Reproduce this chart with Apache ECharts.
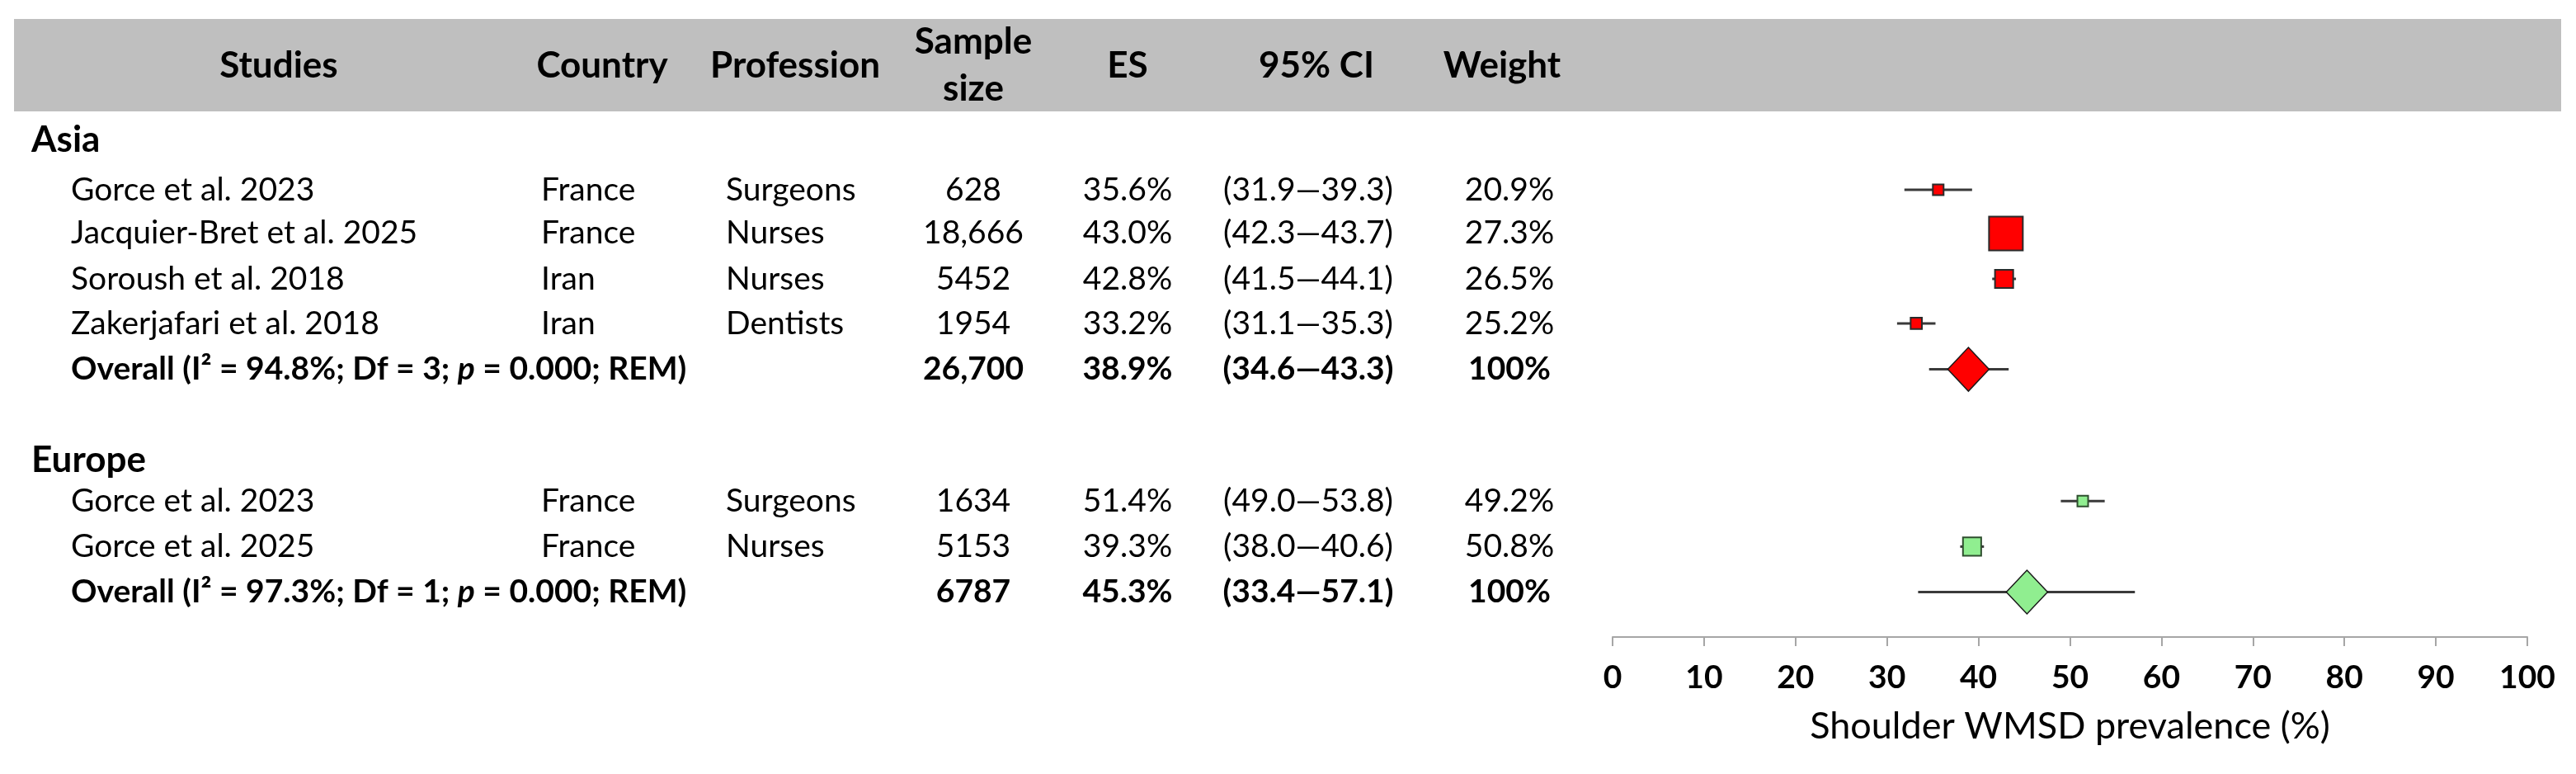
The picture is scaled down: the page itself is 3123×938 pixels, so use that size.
<!DOCTYPE html>
<html><head><meta charset="utf-8">
<script src="https://cdn.jsdelivr.net/npm/echarts@6/dist/echarts.min.js"></script>
<style>html,body{margin:0;padding:0;background:#fff}#c{width:3123px;height:938px}</style>
</head><body><div id="c"></div>
<script>
// ================= DATA =================
const headerLabels = ['Studies', 'Country', 'Profession', 'Sample\nsize', 'ES', '95% CI', 'Weight'];
const groupNames = ['Asia', 'Europe'];

const asiaStudies    = ['Gorce et al. 2023', 'Jacquier-Bret et al. 2025', 'Soroush et al. 2018', 'Zakerjafari et al. 2018'];
const asiaCountry    = ['France', 'France', 'Iran', 'Iran'];
const asiaProfession = ['Surgeons', 'Nurses', 'Nurses', 'Dentists'];
const asiaSample     = ['628', '18,666', '5452', '1954'];
const asiaES         = [35.6, 43.0, 42.8, 33.2];
const asiaLow        = [31.9, 42.3, 41.5, 31.1];
const asiaHigh       = [39.3, 43.7, 44.1, 35.3];
const asiaWeight     = ['20.9%', '27.3%', '26.5%', '25.2%'];
const asiaOverallLabel = 'Overall (I² = 94.8%; Df = 3; {it|p} = 0.000; REM)';
const asiaOverall    = { n: '26,700', es: 38.9, low: 34.6, high: 43.3, weight: '100%' };

const europeStudies    = ['Gorce et al. 2023', 'Gorce et al. 2025'];
const europeCountry    = ['France', 'France'];
const europeProfession = ['Surgeons', 'Nurses'];
const europeSample     = ['1634', '5153'];
const europeES         = [51.4, 39.3];
const europeLow        = [49.0, 38.0];
const europeHigh       = [53.8, 40.6];
const europeWeight     = ['49.2%', '50.8%'];
const europeOverallLabel = 'Overall (I² = 97.3%; Df = 1; {it|p} = 0.000; REM)';
const europeOverall    = { n: '6787', es: 45.3, low: 33.4, high: 57.1, weight: '100%' };

const axisTickLabels = ['0', '10', '20', '30', '40', '50', '60', '70', '80', '90', '100'];
const axisTitle = 'Shoulder WMSD prevalence (%)';

// ================= LAYOUT / STYLE =================
const FONT = 'Lato';
const FS = 39, FS_HEAD = 44, FS_GROUP = 44, FS_TITLE = 45;
const Y_MIN = -4.2, Y_MAX = 9.94;
const GRID_TOP = 1, GRID_H = 771;
const PLOT_LEFT = 1955, PLOT_W = 1109;
const TABLE_W = 1955;
const HEADER_Y = -2.76;
const asiaRowsY = { header: -1.1, rows: [0, 0.97, 1.98, 2.97], overall: 3.99 };
const europeRowsY = { header: 6.02, rows: [6.92, 7.93], overall: 8.94 };
// columns: [x, align] for header and values
const colHeader = [[338, 'center'], [730, 'center'], [964, 'center'], [1180, 'center'], [1367, 'center'], [1596, 'center'], [1821, 'center']];
const colValue  = [[86, 'left'], [656, 'left'], [880, 'left'], [1180, 'center'], [1367, 'center'], [1586, 'center'], [1830, 'center']];
const GROUP_X = 38;
const groupStyle = [
  { fill: '#ff0000', stroke: '#2a2a2a' },
  { fill: '#90ee90', stroke: '#2f4f2f' }
];

// ================= BUILD TABLE ITEMS =================
const tableItems = [];
function cell(x, y, text, align, weight, size) {
  tableItems.push({ x, y, text, align, weight: weight || 'normal', size: size || FS });
}
headerLabels.forEach((h, i) => cell(colHeader[i][0], HEADER_Y, h, colHeader[i][1], 'bold', FS_HEAD));

const fmt = v => v.toFixed(1);
function addGroup(gi, rowsY, studies, country, prof, sample, es, lo, hi, w, ovLabel, ov) {
  cell(GROUP_X, rowsY.header, groupNames[gi], 'left', 'bold', FS_GROUP);
  studies.forEach((s, i) => {
    const y = rowsY.rows[i];
    const vals = [s, country[i], prof[i], sample[i], fmt(es[i]) + '%', '(' + fmt(lo[i]) + '—' + fmt(hi[i]) + ')', w[i]];
    vals.forEach((v, c) => cell(colValue[c][0], y, v, colValue[c][1]));
  });
  const y = rowsY.overall;
  const vals = [ovLabel, null, null, ov.n, fmt(ov.es) + '%', '(' + fmt(ov.low) + '—' + fmt(ov.high) + ')', ov.weight];
  vals.forEach((v, c) => { if (v !== null) cell(colValue[c][0], y, v, colValue[c][1], 'bold'); });
}
addGroup(0, asiaRowsY, asiaStudies, asiaCountry, asiaProfession, asiaSample, asiaES, asiaLow, asiaHigh, asiaWeight, asiaOverallLabel, asiaOverall);
addGroup(1, europeRowsY, europeStudies, europeCountry, europeProfession, europeSample, europeES, europeLow, europeHigh, europeWeight, europeOverallLabel, europeOverall);

// ================= BUILD FOREST ITEMS =================
const forestItems = []; // [es, y, low, high, group, isOverall]
asiaES.forEach((v, i) => forestItems.push([v, asiaRowsY.rows[i], asiaLow[i], asiaHigh[i], 0, 0]));
forestItems.push([asiaOverall.es, asiaRowsY.overall, asiaOverall.low, asiaOverall.high, 0, 1]);
europeES.forEach((v, i) => forestItems.push([v, europeRowsY.rows[i], europeLow[i], europeHigh[i], 1, 0]));
forestItems.push([europeOverall.es, europeRowsY.overall, europeOverall.low, europeOverall.high, 1, 1]);

// ================= CHART =================
const chart = echarts.init(document.getElementById('c'), null, { renderer: 'canvas' });
const yAxisCommon = { type: 'value', min: Y_MIN, max: Y_MAX, inverse: true, show: false };

chart.setOption({
  backgroundColor: '#ffffff',
  animation: false,
  graphic: [{
    type: 'rect', z: 0, silent: true,
    shape: { x: 17, y: 23, width: 3088, height: 112 },
    style: { fill: '#bfbfbf' }
  }],
  grid: [
    { left: 0, top: GRID_TOP, width: TABLE_W, height: GRID_H },
    { left: PLOT_LEFT, top: GRID_TOP, width: PLOT_W, height: GRID_H }
  ],
  xAxis: [
    { gridIndex: 0, type: 'value', min: 0, max: TABLE_W, show: false },
    {
      gridIndex: 1, type: 'value', min: 0, max: 100, interval: 10,
      splitLine: { show: false },
      axisLine: { show: true, onZero: false, lineStyle: { color: '#a6a6a6', width: 2 } },
      axisTick: { show: true, length: 11, lineStyle: { color: '#a6a6a6', width: 2 } },
      axisLabel: {
        margin: 30, color: '#000', fontFamily: FONT, fontWeight: 'bold', fontSize: FS,
        formatter: (v) => axisTickLabels[Math.round(v / 10)]
      },
      name: axisTitle, nameLocation: 'middle', nameGap: 86,
      nameTextStyle: { color: '#000', fontFamily: FONT, fontSize: FS_TITLE }
    }
  ],
  yAxis: [
    Object.assign({ gridIndex: 0 }, yAxisCommon),
    Object.assign({ gridIndex: 1 }, yAxisCommon)
  ],
  series: [
    {
      type: 'custom', xAxisIndex: 0, yAxisIndex: 0, clip: false, silent: true, z: 5,
      data: tableItems.map(d => [d.x, d.y]),
      renderItem: function (params, api) {
        const d = tableItems[params.dataIndex];
        const p = api.coord([d.x, d.y]);
        return {
          type: 'text', x: p[0], y: p[1],
          style: {
            text: d.text, fill: '#000', fontFamily: FONT, fontSize: d.size, fontWeight: d.weight,
            align: d.align, verticalAlign: 'middle', lineHeight: 57,
            rich: { it: { fontStyle: 'italic', fontWeight: d.weight, fontFamily: FONT, fontSize: d.size, fill: '#000' } }
          }
        };
      }
    },
    {
      type: 'custom', xAxisIndex: 1, yAxisIndex: 1, clip: false, silent: true, z: 5,
      data: forestItems,
      renderItem: function (params, api) {
        const es = api.value(0), y = api.value(1), lo = api.value(2), hi = api.value(3);
        const g = api.value(4), ov = api.value(5);
        const c = api.coord([es, y]), a = api.coord([lo, y]), b = api.coord([hi, y]);
        const st = groupStyle[g];
        const children = [{
          type: 'line',
          shape: { x1: a[0], y1: c[1], x2: b[0], y2: c[1] },
          style: { stroke: '#3a3a3a', lineWidth: 3 }
        }];
        if (ov) {
          const hw = 25, hh = 26.5;
          children.push({
            type: 'polygon',
            shape: { points: [[c[0] - hw, c[1]], [c[0], c[1] - hh], [c[0] + hw, c[1]], [c[0], c[1] + hh]] },
            style: { fill: st.fill, stroke: '#1a1a1a', lineWidth: 1.5 }
          });
        } else {
          const s = Math.max(13, 57.4 / (hi - lo));
          children.push({
            type: 'rect',
            shape: { x: c[0] - s / 2, y: c[1] - s / 2, width: s, height: s },
            style: { fill: st.fill, stroke: st.stroke, lineWidth: 2 }
          });
        }
        return { type: 'group', children };
      }
    }
  ]
});
</script>
</body></html>
